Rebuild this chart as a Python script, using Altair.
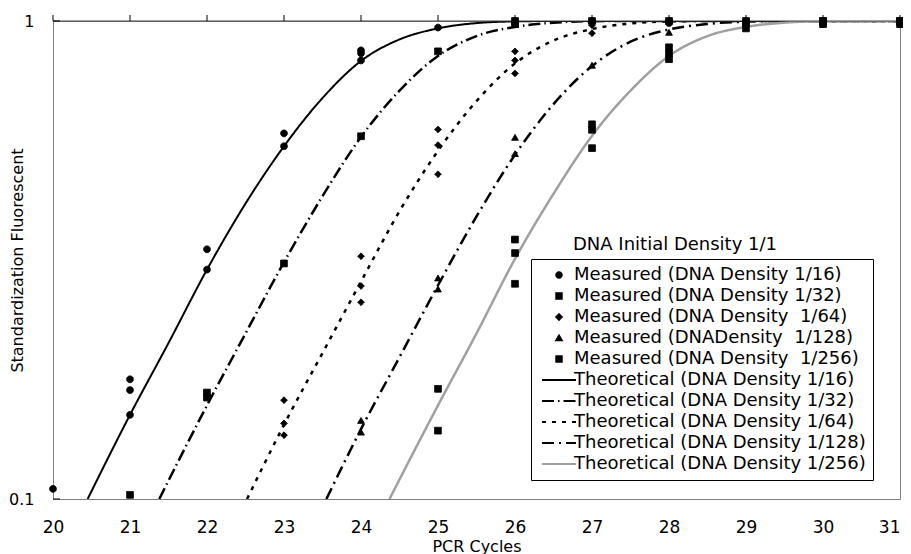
import altair as alt
import pandas as pd

# ---------------- data ----------------
legend_title = "DNA Initial Density 1/1"
measured_labels = [
    "Measured (DNA Density 1/16)",
    "Measured (DNA Density 1/32)",
    "Measured (DNA Density \u00a01/64)",
    "Measured (DNADensity \u00a01/128)",
    "Measured (DNA Density \u00a01/256)",
]
theory_labels = [
    "Theoretical (DNA Density 1/16)",
    "Theoretical (DNA Density 1/32)",
    "Theoretical (DNA Density 1/64)",
    "Theoretical (DNA Density 1/128)",
    "Theoretical (DNA Density 1/256)",
]
x_ticks = [20, 21, 22, 23, 24, 25, 26, 27, 28, 29, 30, 31]
y_ticks = [0.1, 1]

# measured points
m16_x = [20, 21, 21, 21, 22, 22, 23, 23, 24, 24, 24, 25, 26, 26, 27, 27, 28, 28, 29, 29, 30, 30, 31, 31]
m16_y = [0.105, 0.178, 0.169, 0.150, 0.333, 0.302, 0.582, 0.547, 0.868, 0.856, 0.827, 0.969,
         1.0, 0.99, 1.0, 0.995, 1.0, 0.99, 1.0, 0.99, 0.995, 0.985, 0.995, 0.985]
m32_x = [21, 22, 22, 23, 24, 25, 26, 26, 27, 28, 29, 30, 31]
m32_y = [0.102, 0.167, 0.163, 0.311, 0.574, 0.864, 1.0, 0.985, 1.0, 1.0, 1.0, 1.0, 1.0]
m64_x = [23, 23, 23, 24, 24, 24, 25, 25, 25, 26, 26, 26, 27, 27, 28, 29, 30, 31]
m64_y = [0.161, 0.144, 0.136, 0.322, 0.279, 0.258, 0.593, 0.55, 0.478, 0.864, 0.827, 0.777,
         0.98, 0.943, 1.0, 1.0, 1.0, 1.0]
m128_x = [24, 24, 25, 25, 26, 26, 27, 28, 29, 30, 31]
m128_y = [0.146, 0.138, 0.29, 0.275, 0.571, 0.528, 0.808, 0.947, 1.0, 1.0, 1.0]
m256_x = [25, 25, 26, 26, 26, 27, 27, 27, 28, 28, 28, 29, 29, 30, 30, 31, 31]
m256_y = [0.170, 0.139, 0.349, 0.327, 0.282, 0.608, 0.592, 0.542, 0.881, 0.856, 0.832,
          0.993, 0.965, 1.0, 0.985, 1.0, 0.985]

# theoretical curves
t16_x = [20.45, 21, 21.5, 22, 22.5, 23, 23.5, 24, 24.5, 25, 25.5, 26, 26.5, 27, 28, 29, 30, 31]
t16_y = [0.1, 0.150, 0.212, 0.302, 0.415, 0.547, 0.69, 0.825, 0.915, 0.965, 0.99, 0.998, 1.0, 1.0, 1.0, 1.0, 1.0, 1.0]
t32_x = [21.38, 22, 22.5, 23, 23.5, 24, 24.5, 25, 25.5, 26, 26.5, 27, 27.5, 28, 29, 30, 31]
t32_y = [0.1, 0.157, 0.222, 0.313, 0.43, 0.572, 0.715, 0.845, 0.93, 0.972, 0.992, 0.999, 1.0, 1.0, 1.0, 1.0, 1.0]
t64_x = [22.52, 23, 23.5, 24, 24.5, 25, 25.5, 26, 26.5, 27, 27.5, 28, 28.5, 29, 30, 31]
t64_y = [0.1, 0.143, 0.202, 0.285, 0.4, 0.535, 0.68, 0.815, 0.91, 0.962, 0.988, 0.998, 1.0, 1.0, 1.0, 1.0]
t128_x = [23.55, 24, 24.5, 25, 25.5, 26, 26.5, 27, 27.5, 28, 28.5, 29, 29.5, 30, 31]
t128_y = [0.1, 0.14, 0.198, 0.28, 0.39, 0.525, 0.67, 0.805, 0.905, 0.96, 0.986, 0.997, 1.0, 1.0, 1.0]
t256_x = [24.37, 25, 25.5, 26, 26.5, 27, 27.5, 28, 28.5, 29, 29.5, 30, 30.5, 31]
t256_y = [0.1, 0.157, 0.222, 0.318, 0.435, 0.575, 0.715, 0.845, 0.93, 0.972, 0.992, 0.999, 1.0, 1.0]

# ---------------- styles ----------------
FONT = "DejaVu Sans"
GRAY = "#a0a0a0"
line_styles = [
    {"dash": [1, 0], "color": "#000000", "width": 2},
    {"dash": [12, 4, 1.5, 4], "color": "#000000", "width": 2.5},
    {"dash": [4, 6], "color": "#000000", "width": 2.5},
    {"dash": [12, 5, 2, 5], "color": "#000000", "width": 2.5},
    {"dash": [1, 0], "color": GRAY, "width": 2.5},
]
point_shapes = ["circle", "square", "diamond", "triangle-up", "square"]
legend_line_path = "M-6.2,0L6.2,0"

# ---------------- tables ----------------
rows = []
for lab, xs, ys in zip(measured_labels, [m16_x, m32_x, m64_x, m128_x, m256_x],
                       [m16_y, m32_y, m64_y, m128_y, m256_y]):
    rows += [{"series": lab, "cycle": a, "value": b} for a, b in zip(xs, ys)]
pts = pd.DataFrame(rows)

curves = [(t16_x, t16_y), (t32_x, t32_y), (t64_x, t64_y), (t128_x, t128_y), (t256_x, t256_y)]

all_labels = measured_labels + theory_labels
shape_range = point_shapes + [legend_line_path] * 5
fill_range = ["#000000"] * 5 + ["transparent"] * 5
stroke_range = ["#000000"] * 5 + [s["color"] for s in line_styles]
dash_range = [[1, 0]] * 5 + [s["dash"] for s in line_styles]

x_scale = alt.Scale(domain=[20, 31], nice=False, zero=False)
y_scale = alt.Scale(type="log", domain=[0.1, 1], nice=False)

# one identical axis definition shared by every layer (so the shared axes merge cleanly)
x_axis = alt.Axis(values=x_ticks, ticks=False, domain=False, grid=False, labelPadding=20,
                  labelFontSize=17, labelFlush=False,
                  labelAlign=alt.ExprRef("datum.value == 31 ? 'right' : 'center'"),
                  title="PCR Cycles", titleFontSize=16, titleFontWeight="normal", titlePadding=3)
y_axis = alt.Axis(values=y_ticks, labelExpr="datum.value >= 1 ? '1' : '0.1'", ticks=False,
                  domain=False, grid=False, labelPadding=19, labelFontSize=16, labelFlush=False,
                  title="Standardization Fluorescent", titleFontSize=16, titleFontWeight="normal",
                  titlePadding=-17)
X = alt.X("cycle:Q", scale=x_scale, axis=x_axis)
Y = alt.Y("value:Q", scale=y_scale, axis=y_axis)

# ---------------- layers ----------------
line_layers = []
for (xs, ys), st in zip(curves, line_styles):
    df = pd.DataFrame({"cycle": xs, "value": ys})
    line_layers.append(
        alt.Chart(df).mark_line(strokeDash=st["dash"], stroke=st["color"], strokeWidth=st["width"],
                                interpolate="monotone", clip=True).encode(x=X, y=Y)
    )

# outward tick marks along the top edge (x positions from the tick list through the x scale)
top_ticks = alt.Chart(pd.DataFrame({"cycle": x_ticks})).mark_rule(color="#000000", strokeWidth=1).encode(
    x=X, y=alt.value(-6), y2=alt.value(0),
)
top_line = alt.Chart(pd.DataFrame({"cycle": x_ticks})).mark_rule(color="#404040", strokeWidth=1).encode(
    x=alt.X("min(cycle):Q", scale=x_scale, axis=x_axis), x2="max(cycle):Q", y=alt.value(0),
)
# short inward ticks on the left edge at the labelled y values
left_ticks = alt.Chart(pd.DataFrame({"value": y_ticks})).mark_rule(color="#000000", strokeWidth=1).encode(
    y=Y, x=alt.value(0), x2=alt.value(7),
)

points = alt.Chart(pts).mark_point(size=45, strokeWidth=1, opacity=1).encode(
    x=X, y=Y,
    shape=alt.Shape("series:N", scale=alt.Scale(domain=all_labels, range=shape_range), title=None),
    fill=alt.Fill("series:N", scale=alt.Scale(domain=all_labels, range=fill_range), title=None),
    stroke=alt.Stroke("series:N", scale=alt.Scale(domain=all_labels, range=stroke_range), title=None),
    strokeDash=alt.StrokeDash("series:N", scale=alt.Scale(domain=all_labels, range=dash_range), title=None),
)

title_text = alt.Chart(pd.DataFrame({"label": [legend_title]})).mark_text(
    align="left", baseline="middle", fontSize=18, font=FONT, color="#000000"
).encode(text="label:N", x=alt.value(520), y=alt.value(224))

chart = alt.layer(*line_layers, top_line, top_ticks, left_ticks, points, title_text).properties(
    width=847, height=478,
    autosize=alt.AutoSizeParams(type="none"),
    padding={"left": 45, "top": 13, "right": 3, "bottom": 56},
).configure_view(stroke="#808080", strokeWidth=1).configure_axis(
    labelFont=FONT, titleFont=FONT, labelColor="#000000", titleColor="#000000"
).configure_legend(
    orient="none", legendX=478, legendY=238, padding=7, strokeColor="#000000", fillColor="#ffffff",
    symbolSize=30, symbolStrokeWidth=2, labelFont=FONT, labelFontSize=18, labelColor="#000000",
    labelLimit=500, rowPadding=3, symbolOffset=12, labelOffset=6, cornerRadius=0,
)

chart.save("out.html", embed_options={"renderer": "svg", "actions": False})
